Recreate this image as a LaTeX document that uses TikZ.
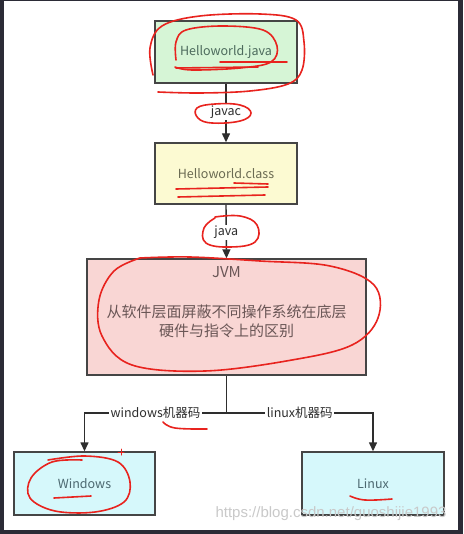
\documentclass[tikz,border=0pt]{standalone}
\usepackage{fontspec}
\setmainfont{Noto Sans CJK SC}
\newfontfamily\wmfont{Liberation Sans}
\usetikzlibrary{arrows.meta}
\definecolor{frame}{HTML}{2B2B36}
\definecolor{greenf}{HTML}{D6F5D6}
\definecolor{yellowf}{HTML}{FCFAD2}
\definecolor{pinkf}{HTML}{F9D6D4}
\definecolor{cyanf}{HTML}{D6F8FB}
\definecolor{boxline}{HTML}{454545}
\definecolor{conn}{HTML}{2E2E2E}
\definecolor{txtg}{HTML}{4C6A5C}
\definecolor{txty}{HTML}{6A6A52}
\definecolor{txtp}{HTML}{6A5656}
\definecolor{txtc}{HTML}{4C6870}
\definecolor{pen}{HTML}{E8231E}
\tikzset{
  box/.style={draw=boxline, line width=1.4pt, minimum width=#1, inner sep=0pt, font=\fontsize{12.5}{15}\selectfont},
  conline/.style={draw=conn, line width=1.4pt},
  arr/.style={conline, -{Triangle[length=9pt,width=8pt]}},
  lab/.style={fill=white, inner sep=1.5pt, text=conn, font=\fontsize{12.5}{15}\selectfont},
  redpen/.style={draw=pen, line width=1.6pt, line cap=round, line join=round}
}
\begin{document}
\begin{tikzpicture}[x=1pt,y=-1pt]
\useasboundingbox (0,0) rectangle (463,534);
\fill[frame] (0,0) rectangle (463,534);
\fill[white] (4,1.5) rectangle (457.5,530);

\node[box=142pt, minimum height=62pt, fill=greenf, text=txtg] (java) at (226,52) {Helloworld.java};
\node[box=142pt, minimum height=61pt, fill=yellowf, text=txty] (class) at (226,173.5) {Helloworld.class};
\node[box=279pt, minimum height=116pt, fill=pinkf] (jvm) at (226.5,317) {};
\node[text=txtp, font=\fontsize{15}{18}\selectfont, inner sep=0pt] (jvmt) at (226.5,272) {JVM};
\node[text=txtp, font=\fontsize{15}{19}\selectfont, align=center, inner sep=0pt] (jvmd) at (226.5,321) {从软件层面屏蔽不同操作系统在底层\\硬件与指令上的区别};
\node[box=141pt, minimum height=63pt, fill=cyanf, text=txtc] (win) at (84.5,483.5) {Windows};
\node[box=142pt, minimum height=63pt, fill=cyanf, text=txtc] (lin) at (373,483.5) {Linux};
\coordinate (junc) at (226.5,413);

\draw[arr] (java.south) -- node[lab, pos=0.48] (l1) {javac} (class.north);
\draw[arr] (class.south) -- node[lab, pos=0.52] (l2) {java} (jvm.north);
\draw[conline] (jvm.south) -- (junc);
\draw[arr] (junc) -| node[lab, pos=0.25] (l3) {windows机器码} (win.north);
\draw[arr] (junc) -| node[lab, pos=0.25] (l4) {linux机器码} (lin.north);

\node[text=gray!42, font=\fontsize{15}{17}\wmfont, inner sep=0pt] (wm) at (331,514) {https://blog.csdn.net/guoshijie1993};

% red annotations
\draw[redpen] plot[smooth, tension=0.6] coordinates {(153,75) (150,48) (162,26) (200,16) (260,14) (296,20) (304,42) (302,70) (288,84) (250,91) (200,93) (158,92)};
\draw[redpen] plot[smooth, tension=0.6] coordinates {(176,60) (176,42) (186,30) (222,26) (263,30) (277,46) (271,62) (240,68) (192,70) (175,67)};
\draw[redpen] (220,62) -- (287,62);
\draw[redpen] (176,68) -- (258,67);
\draw[redpen] plot[smooth cycle, tension=0.7] coordinates {(197,108) (215,104) (240,105) (251,113) (240,121) (212,123) (198,118)};
\draw[redpen] (234,183) -- (268,184);
\draw[redpen] (176,189) -- (268,187);
\draw[redpen] (178,197) -- (265,195);
\draw[redpen] plot[smooth, tension=0.7] coordinates {(215,218) (204,228) (206,243) (230,247) (255,242) (257,225) (240,216) (215,217)};
\draw[redpen] plot[smooth, tension=0.6] coordinates {(140,258) (190,257) (260,261) (330,266) (374,285) (378,318) (352,345) (292,360) (205,371) (132,365) (102,336) (99,300) (114,271) (140,258)};
\draw[redpen] plot[smooth, tension=0.7] coordinates {(163,422) (175,428) (207,429)};
\draw[redpen] plot[smooth, tension=0.6] coordinates {(82,460) (52,462) (31,478) (30,498) (55,511) (95,512) (124,502) (130,482) (118,462) (85,456) (48,460)};
\draw[redpen] (54,498) -- (91,496);
\draw[redpen, line width=1pt] (118,452) -- (124,452) (121,449) -- (121,455);
\draw[redpen] plot[smooth, tension=0.7] coordinates {(350,496) (365,500) (392,499)};
\end{tikzpicture}
\end{document}
